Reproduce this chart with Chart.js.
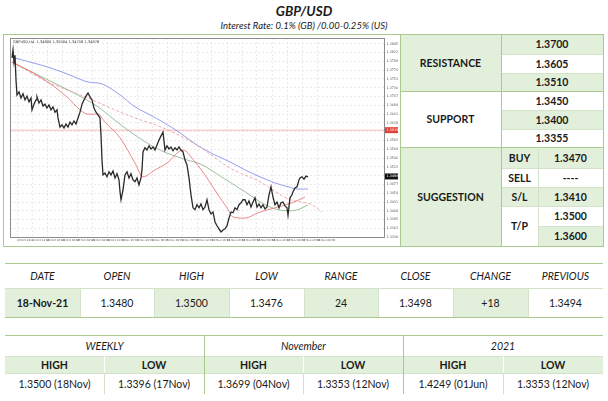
<!DOCTYPE html>
<html><head><meta charset="utf-8">
<script src="https://cdn.jsdelivr.net/npm/chart.js@4.4.1/dist/chart.umd.min.js"></script>
<style>
html,body{margin:0;padding:0;background:#fff;width:608px;height:401px;overflow:hidden;}
#page{position:relative;width:608px;height:401px;font-family:Lato,"Open Sans",sans-serif;color:#1a1a1a;}
.abs{position:absolute;box-sizing:border-box;display:flex;align-items:center;justify-content:center;white-space:nowrap;}
.b{font-weight:700;}
.i{font-style:italic;}
#chartBox{position:absolute;left:9px;top:37px;width:389px;height:208px;}
</style></head>
<body><div id="page"><div id="chartBox"><canvas id="c" width="389" height="208"></canvas></div></div>
<script>
// ---------------- DATA ----------------
const pair = "GBP/USD";
const subtitle = "Interest Rate: 0.1% (GB) /0.00-0.25% (US)";

// price chart (bar index, close)
const priceBars = [0,1,2,3,4,5,7,9,11,13,15,17,19,20,22,24,25,27,29,31,33,35,37,39,41,43,45,46,48,50,52,54,56,58,60,62,64,66,68,70,72,74,76,78,80,82,84,86,88,89,90,91,93,95,97,99,101,103,105,107,108,109,111,113,115,117,119,121,123,125,127,129,130,131,133,135,137,139,141,143,145,147,149,151,153,155,157,159,161,163,165,167,169,171,173,175,177,179,181,183,185,187,189,191,193,195,197,199,201,203,205,207,209,211,213,215,217,219,221,223,225,227,229,231,233,235,237,239,241,243,245,247,249,251,253,255,257,259,261,263,265,267,269,271,273,275,276,278,280,281,283,285,287,288,290,292,294,296];
const priceClose = [1.3808,1.3829,1.3797,1.3815,1.3750,1.3711,1.3719,1.3703,1.3714,1.3698,1.3708,1.3693,1.3703,1.3672,1.3687,1.3698,1.3706,1.3690,1.3698,1.3682,1.3687,1.3677,1.3685,1.3672,1.3680,1.3666,1.3672,1.3651,1.3627,1.3633,1.3625,1.3635,1.3627,1.3640,1.3633,1.3643,1.3635,1.3651,1.3666,1.3687,1.3698,1.3708,1.3716,1.3706,1.3698,1.3677,1.3666,1.3659,1.3651,1.3606,1.3541,1.3502,1.3507,1.3497,1.3510,1.3502,1.3512,1.3494,1.3505,1.3489,1.3458,1.3437,1.3463,1.3502,1.3510,1.3494,1.3505,1.3489,1.3484,1.3494,1.3476,1.3494,1.3515,1.3562,1.3573,1.3567,1.3578,1.3570,1.3575,1.3567,1.3580,1.3593,1.3604,1.3614,1.3567,1.3578,1.3570,1.3575,1.3565,1.3573,1.3567,1.3575,1.3567,1.3562,1.3541,1.3528,1.3494,1.3450,1.3416,1.3411,1.3424,1.3416,1.3426,1.3411,1.3418,1.3437,1.3411,1.3400,1.3405,1.3379,1.3369,1.3361,1.3353,1.3358,1.3361,1.3369,1.3389,1.3405,1.3403,1.3416,1.3411,1.3424,1.3429,1.3437,1.3437,1.3424,1.3434,1.3418,1.3431,1.3442,1.3418,1.3426,1.3416,1.3424,1.3413,1.3418,1.3450,1.3471,1.3444,1.3424,1.3431,1.3416,1.3429,1.3431,1.3421,1.3416,1.3397,1.3442,1.3450,1.3458,1.3468,1.3471,1.3489,1.3494,1.3497,1.3491,1.3499,1.3497];

// moving averages
const maBlueBars  = [0,18,36,58,76,90,108,123,138,151,168,185,203,218,233,248,263,276,286,296];
const maBlueVals  = [1.3810,1.3797,1.3784,1.3763,1.3745,1.3740,1.3711,1.3680,1.3659,1.3640,1.3612,1.3580,1.3554,1.3536,1.3515,1.3497,1.3481,1.3471,1.3465,1.3465];
const maGreenBars = [0,26,60,86,100,123,148,175,188,213,233,253,266,278,288,296];
const maGreenVals = [1.3797,1.3763,1.3719,1.3680,1.3651,1.3606,1.3567,1.3541,1.3531,1.3491,1.3458,1.3424,1.3411,1.3408,1.3413,1.3424];
const maRedBars   = [0,28,55,68,76,86,93,108,123,131,143,155,171,183,195,206,215,221,233,246,263,280,293];
const maRedVals   = [1.3797,1.3758,1.3706,1.3672,1.3661,1.3661,1.3640,1.3599,1.3533,1.3497,1.3515,1.3533,1.3567,1.3536,1.3494,1.3450,1.3416,1.3392,1.3389,1.3403,1.3416,1.3429,1.3444];
const maShiftBars = [0,36,76,103,123,151,185,218,248,278,290,300,310];
const maShiftVals = [1.3797,1.3745,1.3703,1.3672,1.3651,1.3625,1.3580,1.3520,1.3484,1.3437,1.3431,1.3424,1.3405];

const levelPrice = 1.3619;
const lastPrice = 1.3498;
const infoText = "GBPUSD,H4  1.34800 1.35004 1.34758 1.34976";

const yTickLabels = [1.3845,1.3822,1.3799,1.3776,1.3753,1.3730,1.3707,1.3684,1.3661,1.3638,1.3615,1.3592,1.3569,1.3546,1.3523,1.3500,1.3477,1.3454,1.3431,1.3408,1.3385,1.3362,1.3339];
const xTickLabels = ["20 Oct 2021","21 Oct 12:00","22 Oct 20:00","26 Oct 04:00","27 Oct 04:00","28 Oct 08:00","29 Oct 12:00","1 Nov 16:00","2 Nov 20:00","4 Nov 00:00","5 Nov 04:00","8 Nov 08:00","9 Nov 12:00","10 Nov 16:00","11 Nov 20:00","15 Nov 00:00","16 Nov 04:00","16 Nov 20:00","17 Nov 08:00","17 Nov 20:00","18 Nov 08:00"];

// tables
const resistance = ["1.3700","1.3605","1.3510"];
const support = ["1.3450","1.3400","1.3355"];
const suggestionKeys = ["BUY","SELL","S/L","T/P"];
const suggestionVals = ["1.3470","----","1.3410","1.3500","1.3600"];
const dailyHeaders = ["DATE","OPEN","HIGH","LOW","RANGE","CLOSE","CHANGE","PREVIOUS"];
const dailyValues = ["18-Nov-21","1.3480","1.3500","1.3476","24","1.3498","+18","1.3494"];
const periodNames = ["WEEKLY","November","2021"];
const periodHeaders = ["HIGH","LOW","HIGH","LOW","HIGH","LOW"];
const periodValues = ["1.3500 (18Nov)","1.3396 (17Nov)","1.3699 (04Nov)","1.3353 (12Nov)","1.4249 (01Jun)","1.3353 (12Nov)"];

// ---------------- LAYOUT HELPERS ----------------
const page = document.getElementById('page');
const G = '#E2EFDA', W = '#FFFFFF', DK = '#A9C98F', LT = '#D4E2C9';
function box(x1,y1,x2,y2,style){const d=document.createElement('div');d.className='abs';
  Object.assign(d.style,{left:x1+'px',top:y1+'px',width:(x2-x1)+'px',height:(y2-y1)+'px'},style||{});page.appendChild(d);return d;}
function cell(x1,y1,x2,y2,text,bg,cls,size){const d=box(x1,y1,x2,y2,{background:bg||'transparent',fontSize:(size||10.5)+'px'});
  d.textContent=text;if(cls)cls.split(' ').forEach(c=>d.classList.add(c));return d;}
function hl(x1,x2,y,c){box(x1,y,x2,y+1,{background:c});}
function vl(x,y1,y2,c){box(x,y1,x+1,y2,{background:c});}

// titles
cell(0,2,608,20,pair,null,'b i',13.5);
cell(0,18,608,32,subtitle,null,'i',9.5);

// right table
const R=[34,54,73,91,110,129,147,168,187,206,226,246];
cell(400,R[0],501,R[3],'RESISTANCE',G,'b');
cell(400,R[3],501,R[6],'SUPPORT',W,'b');
cell(400,R[6],501,R[11],'SUGGESTION',G,'b');
resistance.forEach((v,i)=>cell(501,R[i],603,R[i+1],v,i%2===0?G:W,'b'));
support.forEach((v,i)=>cell(501,R[i+3],603,R[i+4],v,i%2===1?G:W,'b'));
cell(501,R[6],538,R[7],suggestionKeys[0],G,'b');
cell(501,R[7],538,R[8],suggestionKeys[1],W,'b');
cell(501,R[8],538,R[9],suggestionKeys[2],G,'b');
cell(501,R[9],538,R[11],suggestionKeys[3],W,'b');
const sugBg=[G,W,G,W,G];
suggestionVals.forEach((v,i)=>cell(538,R[6+i],603,R[7+i],v,sugBg[i],'b'));
// right table lines
for(let i=1;i<11;i++){ if(i===3||i===6) continue; hl(i>=6?(i===10?538:501):501,603,R[i],LT); }
hl(400,603,R[3],DK); hl(400,603,R[6],DK);
vl(400,34,246,DK); vl(501,34,246,DK); vl(538,R[6],R[11],LT); vl(603,34,247,DK);
// outer frame of top block
hl(3,604,34,DK); hl(3,604,246,DK); vl(3,34,247,DK);

// daily table
const DX=[5,80,154,229,304,378,453,528,603];
dailyHeaders.forEach((h,i)=>cell(DX[i],263,DX[i+1],288,h,null,'i',10.5));
dailyValues.forEach((v,i)=>cell(DX[i],288,DX[i+1],318,v,i%2===0?G:W,i===0?'b':'',10.5));
hl(5,603,263,DK); hl(5,603,288,LT); hl(5,603,317,DK);
for(let i=1;i<8;i++) vl(DX[i],288,317,LT);

// period table
const PX=[5,104,204,303,403,503,603];
periodNames.forEach((n,i)=>cell(PX[2*i],336,PX[2*i+2],356,n,null,'i',10.5));
periodHeaders.forEach((h,i)=>cell(PX[i],356,PX[i+1],373,h,G,'b',10.5));
periodValues.forEach((v,i)=>cell(PX[i],373,PX[i+1],394,v,null,'',10.5));
hl(5,603,335,DK); hl(5,603,356,LT); hl(5,603,373,LT);
vl(204,335,394,DK); vl(403,335,394,DK);
[104,303,503].forEach(x=>{vl(x,356,373,W);vl(x,373,394,LT);});

// ---------------- CHART ----------------
const pts=(xs,ys)=>xs.map((x,i)=>({x:x,y:ys[i]}));
const overlay={id:'overlay',afterDraw(ch){
  const {ctx,chartArea:a,scales}=ch;ctx.save();
  ctx.strokeStyle='#8c8c8c';ctx.lineWidth=1;ctx.strokeRect(a.left+0.5,a.top+0.5,a.right-a.left-1,a.bottom-a.top-1);
  ctx.font='3.6px "DejaVu Sans"';ctx.fillStyle='#333';ctx.textBaseline='top';ctx.fillText(infoText,a.left+3,a.top+2);
  [[levelPrice,'#e0403a'],[lastPrice,'#111']].forEach(([p,c])=>{
    const y=scales.y.getPixelForValue(p);ctx.fillStyle=c;ctx.fillRect(a.right,y-3,13,6);
    ctx.fillStyle='#fff';ctx.font='3.4px "DejaVu Sans"';ctx.textBaseline='middle';ctx.fillText(p.toFixed(4),a.right+1.5,y);});
  ctx.restore();}};
new Chart(document.getElementById('c'),{
  type:'line',
  data:{datasets:[
    {data:pts(priceBars,priceClose),borderColor:'#2a2a2a',borderWidth:1.3,pointRadius:0,tension:0},
    {data:pts(maRedBars,maRedVals),borderColor:'rgba(230,110,110,0.9)',borderWidth:0.9,pointRadius:0,cubicInterpolationMode:'monotone'},
    {data:pts(maShiftBars,maShiftVals),borderColor:'rgba(236,150,150,0.9)',borderWidth:0.9,borderDash:[3,2],pointRadius:0,cubicInterpolationMode:'monotone'},
    {data:pts(maGreenBars,maGreenVals),borderColor:'rgba(140,180,140,0.95)',borderWidth:0.9,pointRadius:0,cubicInterpolationMode:'monotone'},
    {data:pts(maBlueBars,maBlueVals),borderColor:'rgba(125,135,235,0.9)',borderWidth:0.9,pointRadius:0,cubicInterpolationMode:'monotone'},
    {data:[{x:-2,y:levelPrice},{x:373,y:levelPrice}],borderColor:'rgba(240,140,140,0.8)',borderWidth:0.8,pointRadius:0}
  ]},
  options:{responsive:false,animation:false,devicePixelRatio:1,
    layout:{padding:{left:1,top:1,right:0,bottom:0}},
    plugins:{legend:{display:false},tooltip:{enabled:false}},
    scales:{
      x:{type:'linear',min:-2,max:373,
        afterBuildTicks:s=>{s.ticks=xTickLabels.map((l,i)=>({value:5+15*i}));},
        ticks:{callback:(v,i)=>xTickLabels[i],autoSkip:false,maxRotation:0,align:'start',font:{size:2.7,family:'DejaVu Sans'},color:'#555',padding:1},
        grid:{color:'#e6e6e6',lineWidth:0.8,drawTicks:false},border:{display:false,dash:[2,2]},
        afterFit:s=>{s.height=7;s.paddingLeft=0;s.paddingRight=0;}},
      y:{position:'right',min:1.3337,max:1.3860,
        afterBuildTicks:s=>{s.ticks=yTickLabels.map(v=>({value:v}));},
        ticks:{callback:v=>v.toFixed(4),autoSkip:false,font:{size:3.3,family:'DejaVu Sans'},color:'#555',padding:1.5},
        grid:{color:'#e6e6e6',lineWidth:0.8,drawTicks:false},border:{display:false,dash:[2,2]},
        afterFit:s=>{s.width=13;s.paddingTop=0;s.paddingBottom=0;}}
    }},
  plugins:[overlay]
});
</script></body></html>
